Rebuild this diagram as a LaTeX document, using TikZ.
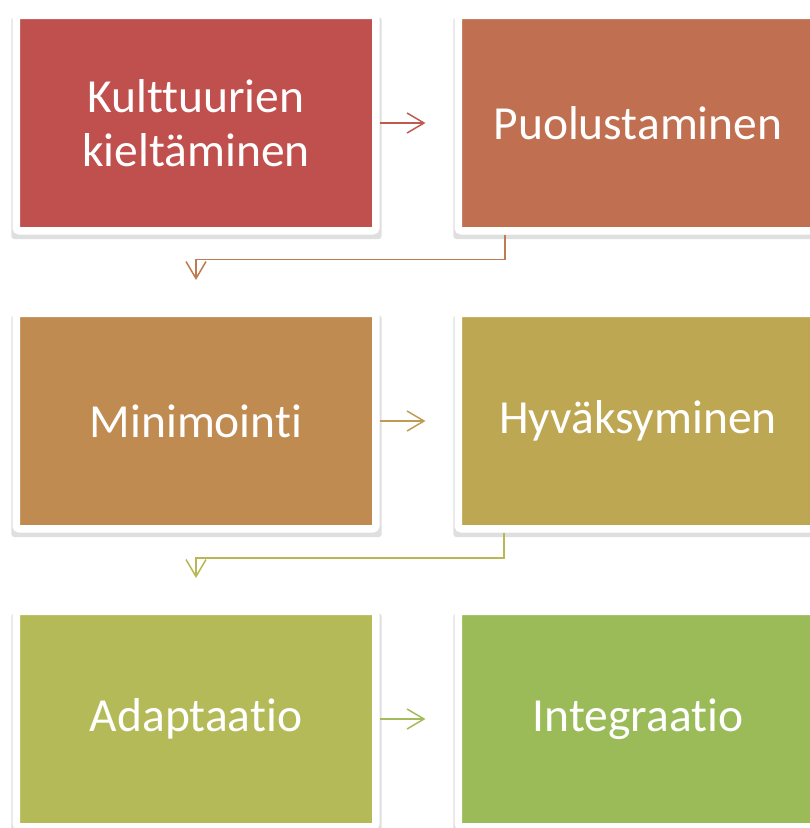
\documentclass[tikz,border=0pt]{standalone}
\usepackage{fontspec}
\setmainfont{Carlito}[Ligatures=NoCommon]
\usetikzlibrary{arrows.meta,shadows}
\definecolor{cA}{HTML}{C0504D}
\definecolor{cB}{HTML}{C07050}
\definecolor{cC}{HTML}{BF8B50}
\definecolor{cD}{HTML}{BEA753}
\definecolor{cE}{HTML}{B5BA59}
\definecolor{cF}{HTML}{9BBB59}
\definecolor{aA}{HTML}{C05A4E}
\definecolor{aB}{HTML}{C07A50}
\definecolor{aC}{HTML}{BF9C55}
\definecolor{aD}{HTML}{B8B655}
\definecolor{aE}{HTML}{A4BB59}
\begin{document}
\begin{tikzpicture}[x=1pt,y=-1pt,
  stagebox/.style={minimum width=359.5pt, minimum height=215.5pt, draw=white,
    line width=7.5pt, rounded corners=3pt, text=white,
    font=\fontsize{47.5}{54}\selectfont, align=center, inner sep=0pt,
    drop shadow={shadow xshift=0.5pt, shadow yshift=-5pt, opacity=0.25, shadow scale=1.03}},
  link/.style={line width=1.5pt, -{Straight Barb[length=17pt,width=20pt,line width=1.5pt]}}
]
\useasboundingbox (0,0) rectangle (810,828);
\node[stagebox, fill=cA] (n1) at (196,123) {Kulttuurien\\kieltäminen};
\node[stagebox, fill=cB] (n2) at (638,123) {Puolustaminen};
\node[stagebox, fill=cC] (n3) at (196,421) {Minimointi};
\node[stagebox, fill=cD] (n4) at (638,421) {Hyväksyminen};
\node[stagebox, fill=cE] (n5) at (196,719) {Adaptaatio};
\node[stagebox, fill=cF] (n6) at (638,719) {Integraatio};
\coordinate (t1) at ([xshift=46pt]n1.east);
\coordinate (t2) at ([xshift=46pt]n3.east);
\coordinate (t3) at ([xshift=46pt]n5.east);
\coordinate (d1) at ([yshift=29.5pt]n3.north);
\coordinate (d2) at ([yshift=29.5pt]n5.north);
\draw[link, aA] (n1.east) -- (t1);
\draw[link, aC] (n3.east) -- (t2);
\draw[link, aE] (n5.east) -- (t3);
\draw[link, aB] ([xshift=-133pt]n2.south) -- ++(0,25) -| (d1);
\draw[link, aD] ([xshift=-134pt]n4.south) -- ++(0,25.5) -| (d2);
\end{tikzpicture}
\end{document}
